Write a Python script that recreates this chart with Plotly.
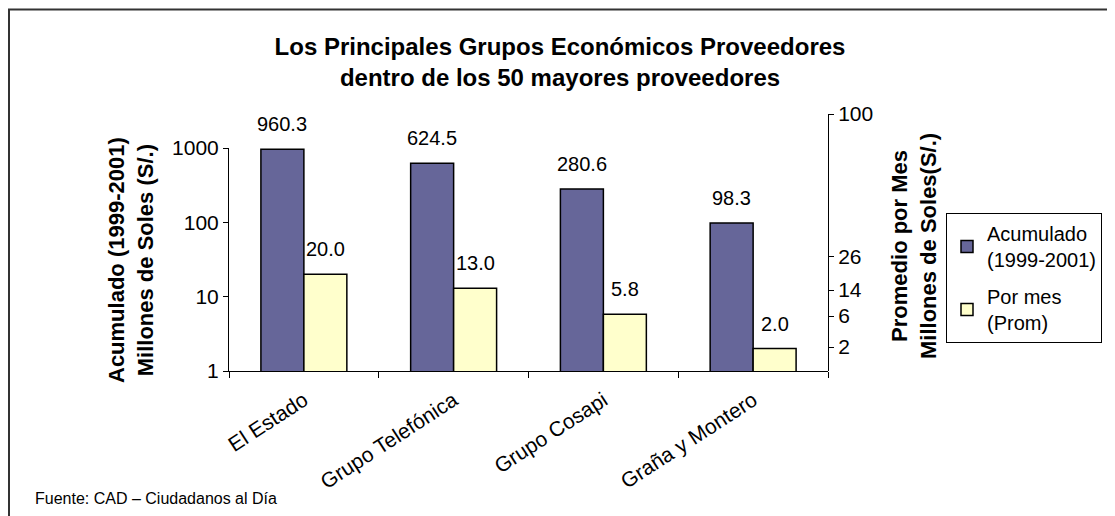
import plotly.graph_objects as go
import math

categories = ["El Estado", "Grupo Telefónica", "Grupo Cosapi", "Graña y Montero"]
acumulado = [960.3, 624.5, 280.6, 98.3]
por_mes = [20.0, 13.0, 5.8, 2.0]
series_names = ["Acumulado<br>(1999-2001)", "Por mes<br>(Prom)"]
left_ticks = [1, 10, 100, 1000]
right_tick_text = ["2", "6", "14", "26", "100"]
right_tick_pos = [0.093, 0.214, 0.315, 0.444, 1.0]

FONT = "Liberation Sans, Arial, sans-serif"
OFF = 8  # page body margin
W, H = 1115 - OFF, 516 - OFF
L, T = 229 - OFF, 114 - OFF
R, B = W - (828 - OFF), H - (371 - OFF)
PW, PH = W - L - R, H - T - B
left_top_px = 148
ydom_top = (371 - left_top_px) / PH

def px_x(p):
    return (p - OFF - L) / PW

def px_y(p):
    return (371 - p) / PH

fig = go.Figure()
fig.add_trace(go.Bar(x=categories, y=acumulado, name=series_names[0], legendgroup="a",
                     marker=dict(color="#666699", line=dict(color="black", width=1.5))))
fig.add_trace(go.Bar(x=categories, y=por_mes, name=series_names[1], legendgroup="b",
                     marker=dict(color="#FFFFCC", line=dict(color="black", width=1.5))))
fig.add_trace(go.Scatter(x=[categories[0]], y=[None], yaxis="y2", showlegend=False,
                         hoverinfo="skip", mode="markers"))

annotations = []
for vals, sh in ((acumulado, -21.5), (por_mes, 21.5)):
    for c, v in zip(categories, vals):
        annotations.append(dict(x=c, y=math.log10(v), xref="x", yref="y", text=f"{v:.1f}",
                                showarrow=False, xshift=sh, yshift=12, yanchor="bottom",
                                font=dict(size=20, color="black", family=FONT)))

annotations.append(dict(x=px_x(131), y=px_y(260), xref="paper", yref="paper",
                        text="<b>Acumulado (1999-2001)<br>Millones de Soles (S/.)</b>",
                        textangle=-90, showarrow=False, xanchor="center", yanchor="middle",
                        font=dict(size=22, color="black", family=FONT)))
annotations.append(dict(x=px_x(914), y=px_y(246), xref="paper", yref="paper",
                        text="<b>Promedio por Mes<br>Millones de Soles(S/.)</b>",
                        textangle=-90, showarrow=False, xanchor="center", yanchor="middle",
                        font=dict(size=22, color="black", family=FONT)))
annotations.append(dict(x=px_x(33), y=px_y(498), xref="paper", yref="paper",
                        text="Fuente: CAD – Ciudadanos al Día", showarrow=False,
                        xanchor="left", yanchor="middle",
                        font=dict(size=16, color="black", family=FONT)))

fig.update_layout(
    width=W, height=H,
    margin=dict(l=L, r=R, t=T, b=B, autoexpand=False),
    paper_bgcolor="white", plot_bgcolor="rgba(0,0,0,0)",
    font=dict(family=FONT, size=20, color="black"),
    title=dict(text="<b>Los Principales Grupos Económicos Proveedores<br>dentro de los 50 mayores proveedores</b>",
               x=(560 - OFF) / W, y=1 - 46.5 / H, xanchor="center", yanchor="middle",
               xref="container", yref="container",
               font=dict(size=24, family=FONT, color="black")),
    barmode="group", bargap=0.426, bargroupgap=0,
    showlegend=True,
    legend=dict(x=px_x(946), y=px_y(213), xanchor="left", yanchor="top",
                bgcolor="white", bordercolor="black", borderwidth=1,
                font=dict(size=20, family=FONT, color="black"), tracegroupgap=8),
    xaxis=dict(type="category", showline=True, linecolor="black", linewidth=1,
               ticks="outside", tickson="boundaries", ticklen=6, tickcolor="black",
               tickangle=-33, showgrid=False, anchor="y", ticklabelstandoff=8,
               tickfont=dict(size=21, family=FONT, color="black")),
    yaxis=dict(type="log", range=[0, 3], domain=[0, ydom_top], showline=True, linecolor="black",
               linewidth=1, ticks="outside", ticklen=5, tickcolor="black", tickvals=left_ticks,
               ticktext=[str(t) for t in left_ticks], showgrid=False, zeroline=False,
               tickfont=dict(size=21, family=FONT, color="black")),
    yaxis2=dict(range=[0, 1], domain=[0, 1], anchor="x", side="right", showline=True,
                linecolor="black", linewidth=1, ticks="outside", ticklen=5, tickcolor="black",
                tickvals=right_tick_pos, ticktext=right_tick_text, showgrid=False, zeroline=False,
                tickfont=dict(size=21, family=FONT, color="black")),
    annotations=annotations,
    shapes=[dict(type="rect", xref="paper", yref="paper", x0=px_x(9), y0=px_y(540),
                 x1=px_x(1140), y1=px_y(9.5), line=dict(color="#333333", width=2),
                 fillcolor="rgba(0,0,0,0)", layer="below")],
)

fig.write_html("out.html")
